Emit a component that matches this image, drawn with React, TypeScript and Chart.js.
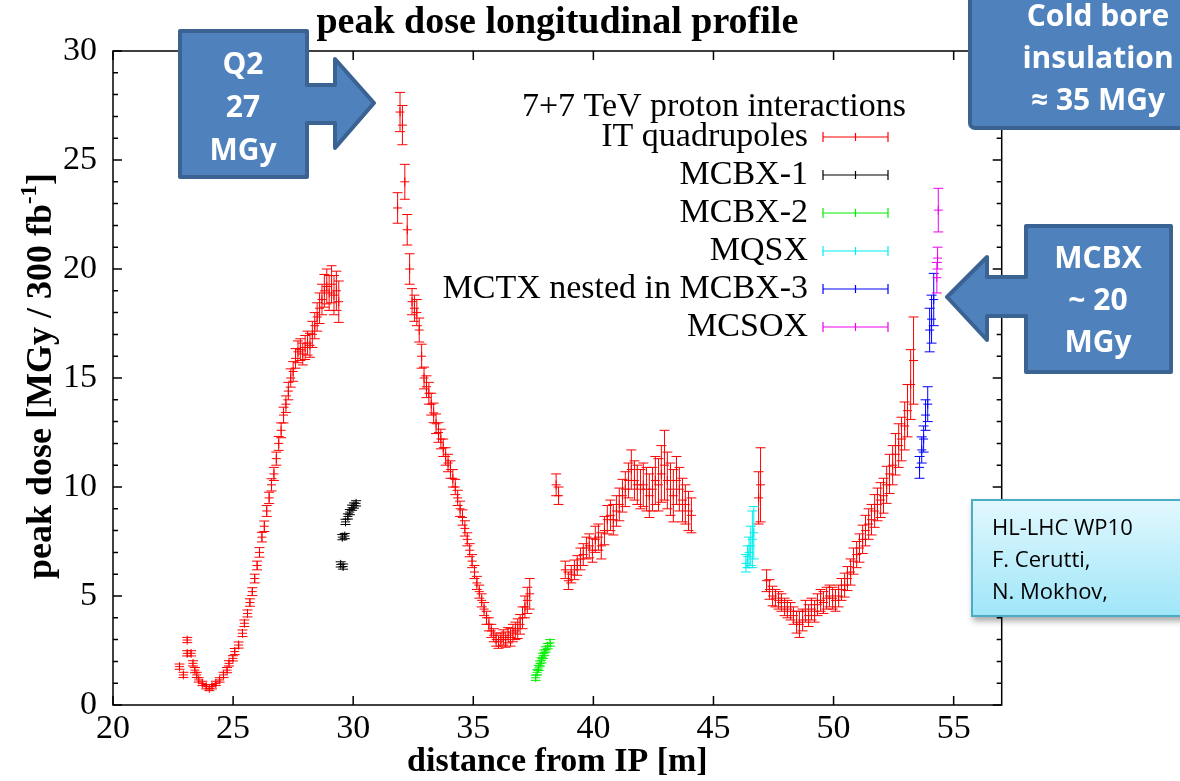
import React, { useEffect, useRef } from "react";
import { Chart, registerables } from "chart.js";

Chart.register(...registerables);

// ---------- data ----------
const xTicks = [20, 25, 30, 35, 40, 45, 50, 55];
const yTicks = [0, 5, 10, 15, 20, 25, 30];

// IT quadrupoles (red)
const itX = [
  22.77, 22.93, 23.09, 23.09, 23.25, 23.33, 23.41, 23.49, 23.57, 23.72, 23.88, 24.01, 24.12, 24.28, 24.44, 24.6, 24.75, 24.83, 24.99, 25.07, 25.23, 25.39, 25.47,
  25.6, 25.7, 25.8, 25.9, 26.0, 26.1, 26.2, 26.3, 26.4, 26.5, 26.6, 26.7, 26.8, 26.9, 27.0, 27.1, 27.2, 27.3, 27.4, 27.5, 27.6, 27.7, 27.8, 27.9, 28.0, 28.1, 28.2, 28.3, 28.4, 28.5, 28.6, 28.7, 28.8, 28.9, 29.0, 29.1, 29.2, 29.3, 29.4,
  31.85, 31.95, 32.05, 32.15, 32.25, 32.35, 32.45, 32.55, 32.65, 32.75, 32.85, 32.95, 33.05, 33.15, 33.25, 33.35, 33.45, 33.55, 33.65, 33.75, 33.85, 33.95, 34.05, 34.15, 34.25, 34.35, 34.45, 34.55, 34.65, 34.75, 34.85, 34.95, 35.05, 35.15, 35.25, 35.35, 35.45, 35.55, 35.65, 35.75, 35.85, 35.95, 36.05, 36.15, 36.25, 36.35, 36.45, 36.55, 36.65, 36.75, 36.85, 36.95, 37.05, 37.15, 37.25, 37.35,
  38.45, 38.55, 38.83, 38.96, 39.08, 39.21, 39.33, 39.46, 39.58, 39.71, 39.83, 39.96, 40.08, 40.21, 40.33, 40.46, 40.58, 40.71, 40.83, 40.96, 41.08, 41.21, 41.33, 41.46, 41.58, 41.71, 41.83, 41.96, 42.08, 42.21, 42.33, 42.46, 42.58, 42.71, 42.83, 42.96, 43.08, 43.21, 43.33, 43.46, 43.58, 43.71, 43.83, 43.96, 44.08,
  46.88, 46.96, 47.21, 47.33, 47.46, 47.58, 47.71, 47.83, 47.96, 48.08, 48.21, 48.33, 48.46, 48.58, 48.71, 48.83, 48.96, 49.08, 49.21, 49.33, 49.46, 49.58, 49.71, 49.83, 49.96, 50.08, 50.21, 50.33, 50.46, 50.58, 50.71, 50.83, 50.96, 51.08, 51.21, 51.33, 51.46, 51.58, 51.71, 51.83, 51.96, 52.08, 52.21, 52.33, 52.46, 52.58, 52.71, 52.83, 52.96, 53.08, 53.21, 53.33,
];
const itY = [
  1.76, 1.38, 2.98, 2.37, 2.37, 1.91, 1.6, 1.38, 1.15, 0.99, 0.84, 0.76, 0.84, 0.99, 1.15, 1.38, 1.6, 1.91, 2.14, 2.45, 2.75, 3.29, 3.75,
  4.2, 4.7, 5.2, 5.8, 6.4, 7.0, 7.7, 8.2, 8.9, 9.5, 10.1, 10.6, 11.3, 12.0, 12.6, 13.3, 13.8, 14.4, 15.0, 15.3, 15.9, 16.2, 16.3, 16.1, 16.4, 16.6, 16.5, 17.0, 17.4, 17.8, 18.2, 18.6, 19.0, 19.2, 18.9, 19.3, 18.8, 19.0, 18.5,
  22.8, 27.2, 26.6, 24.0, 21.8, 20.0, 18.5, 18.2, 18.0, 17.2, 16.0, 15.0, 14.6, 14.3, 13.8, 13.4, 12.9, 12.5, 12.2, 11.8, 11.4, 11.1, 10.8, 10.4, 10.0, 9.5, 9.0, 8.6, 8.1, 7.6, 7.1, 6.6, 6.1, 5.6, 5.2, 4.8, 4.4, 4.0, 3.7, 3.4, 3.2, 3.0, 2.9, 3.0, 3.1, 3.0, 3.2, 3.1, 3.3, 3.4, 3.5, 3.7, 4.0, 4.5, 4.8, 5.1,
  10.1, 9.6, 6.2, 5.7, 6.0, 6.2, 6.4, 6.7, 6.9, 7.2, 7.3, 7.1, 7.6, 7.7, 7.3, 8.0, 8.5, 8.7, 8.5, 8.9, 9.2, 9.6, 9.9, 10.3, 10.8, 10.3, 10.1, 9.9, 10.1, 9.9, 9.6, 9.9, 10.3, 10.1, 10.6, 11.0, 10.3, 9.9, 9.6, 10.3, 9.9, 9.4, 9.2, 8.9, 8.7,
  9.5, 10.1, 5.7, 5.3, 5.0, 4.9, 4.8, 4.7, 4.5, 4.4, 4.3, 4.1, 3.8, 3.7, 3.9, 4.3, 4.1, 4.4, 4.3, 4.6, 4.8, 4.7, 4.9, 5.0, 4.9, 4.8, 5.0, 5.3, 5.5, 5.8, 6.1, 6.6, 6.9, 7.2, 7.6, 8.0, 8.3, 8.5, 8.9, 9.2, 9.4, 9.6, 10.1, 10.6, 11.0, 11.5, 11.9, 12.2, 12.8, 13.5, 14.7, 15.8,
];
const itErr = [
  0.12, 0.12, 0.12, 0.12, 0.12, 0.12, 0.12, 0.12, 0.1, 0.1, 0.1, 0.1, 0.1, 0.1, 0.1, 0.12, 0.12, 0.12, 0.12, 0.14, 0.14, 0.15, 0.15,
  0.16, 0.17, 0.18, 0.2, 0.2, 0.22, 0.22, 0.24, 0.25, 0.26, 0.28, 0.3, 0.3, 0.32, 0.34, 0.36, 0.38, 0.4, 0.42, 0.45, 0.45, 0.5, 0.5, 0.5, 0.55, 0.55, 0.55, 0.6, 0.6, 0.65, 0.7, 0.7, 0.75, 0.8, 0.8, 0.85, 0.9, 0.9, 0.95,
  0.7, 0.9, 0.9, 0.8, 0.7, 0.7, 0.6, 0.6, 0.6, 0.55, 0.55, 0.5, 0.5, 0.5, 0.5, 0.45, 0.45, 0.45, 0.45, 0.4, 0.4, 0.4, 0.4, 0.4, 0.35, 0.35, 0.35, 0.35, 0.35, 0.3, 0.3, 0.3, 0.3, 0.3, 0.3, 0.3, 0.3, 0.3, 0.3, 0.3, 0.3, 0.3, 0.3, 0.3, 0.35, 0.35, 0.35, 0.4, 0.4, 0.4, 0.45, 0.45, 0.5, 0.5, 0.6, 0.7,
  0.5, 0.4, 0.4, 0.4, 0.4, 0.45, 0.45, 0.5, 0.5, 0.5, 0.55, 0.55, 0.6, 0.6, 0.6, 0.65, 0.65, 0.7, 0.7, 0.7, 0.75, 0.75, 0.8, 0.8, 0.9, 0.9, 0.9, 0.9, 1.0, 1.0, 1.0, 1.0, 1.1, 1.2, 1.3, 1.6, 1.3, 1.2, 1.2, 1.1, 1.0, 1.0, 0.9, 0.9, 0.8,
  1.2, 1.7, 0.5, 0.45, 0.45, 0.4, 0.4, 0.4, 0.4, 0.4, 0.4, 0.4, 0.5, 0.6, 0.5, 0.5, 0.5, 0.5, 0.5, 0.5, 0.5, 0.5, 0.5, 0.5, 0.5, 0.5, 0.5, 0.5, 0.55, 0.55, 0.6, 0.6, 0.6, 0.65, 0.65, 0.7, 0.7, 0.7, 0.75, 0.75, 0.8, 0.8, 0.85, 0.9, 0.9, 0.95, 1.0, 1.0, 1.1, 1.2, 1.6, 2.0,
];

// MCBX-1 (black)
const mcbx1X = [29.48, 29.58, 29.55, 29.65, 29.68, 29.78, 29.86, 29.95, 30.03, 30.12];
const mcbx1Y = [6.45, 6.35, 7.7, 7.75, 8.4, 8.65, 8.85, 9.05, 9.15, 9.25];
const mcbx1Err = [0.12, 0.12, 0.12, 0.12, 0.12, 0.12, 0.12, 0.12, 0.12, 0.12];

// MCBX-2 (green)
const mcbx2X = [37.6, 37.66, 37.72, 37.78, 37.84, 37.9, 37.96, 38.02, 38.1, 38.2];
const mcbx2Y = [1.25, 1.5, 1.7, 1.9, 2.05, 2.25, 2.4, 2.55, 2.7, 2.85];
const mcbx2Err = [0.12, 0.12, 0.12, 0.12, 0.12, 0.12, 0.12, 0.12, 0.12, 0.15];

// MQSX (cyan)
const mqsxX = [46.35, 46.42, 46.48, 46.55, 46.62, 46.68];
const mqsxY = [6.5, 6.8, 7.0, 7.3, 7.6, 7.9];
const mqsxErr = [0.4, 0.5, 0.7, 0.9, 1.3, 1.2];

// MCTX nested in MCBX-3 (blue)
const mctxX = [53.58, 53.67, 53.75, 53.83, 53.92, 54.0, 54.08, 54.17];
const mctxY = [10.9, 11.7, 12.2, 13.3, 13.8, 17.2, 17.7, 18.6];
const mctxErr = [0.5, 0.6, 0.6, 0.7, 0.8, 1.0, 1.1, 1.2];

// MCSOX (magenta)
const mcsoxX = [54.3, 54.33, 54.36];
const mcsoxY = [19.6, 20.5, 22.7];
const mcsoxErr = [0.7, 0.5, 1.0];

const seriesLabels = ["IT quadrupoles", "MCBX-1", "MCBX-2", "MQSX", "MCTX nested in MCBX-3", "MCSOX"];
const seriesColors = ["#ff0000", "#000000", "#00ee00", "#00eeee", "#0000ff", "#ee00ee"];
const legendHeader = "7+7 TeV proton interactions";

const seriesData = [
  { x: itX, y: itY, e: itErr },
  { x: mcbx1X, y: mcbx1Y, e: mcbx1Err },
  { x: mcbx2X, y: mcbx2Y, e: mcbx2Err },
  { x: mqsxX, y: mqsxY, e: mqsxErr },
  { x: mctxX, y: mctxY, e: mctxErr },
  { x: mcsoxX, y: mcsoxY, e: mcsoxErr },
];

const SERIF = "'Liberation Serif', 'Times New Roman', serif";
const SANS = "'Open Sans', 'Noto Sans', sans-serif";

// ---------- plugins ----------
const errorBarPlugin = {
  id: "errorBars",
  beforeDatasetsDraw(chart: any) {
    const { ctx, chartArea, scales } = chart;
    ctx.save();
    ctx.beginPath();
    ctx.rect(chartArea.left, chartArea.top, chartArea.right - chartArea.left, chartArea.bottom - chartArea.top);
    ctx.clip();
    ctx.lineWidth = 1;
    seriesData.forEach((s, i) => {
      ctx.strokeStyle = seriesColors[i];
      ctx.beginPath();
      s.x.forEach((xv, j) => {
        const px = scales.x.getPixelForValue(xv);
        const y1 = scales.y.getPixelForValue(s.y[j] - s.e[j]);
        const y2 = scales.y.getPixelForValue(s.y[j] + s.e[j]);
        ctx.moveTo(px, y1);
        ctx.lineTo(px, y2);
        ctx.moveTo(px - 5, y1);
        ctx.lineTo(px + 5, y1);
        ctx.moveTo(px - 5, y2);
        ctx.lineTo(px + 5, y2);
      });
      ctx.stroke();
    });
    ctx.restore();
  },
};

const framePlugin = {
  id: "frame",
  afterDatasetsDraw(chart: any) {
    const { ctx, chartArea, scales } = chart;
    const { left, right, top, bottom } = chartArea;
    ctx.save();
    ctx.strokeStyle = "#000";
    ctx.lineWidth = 1.5;
    ctx.strokeRect(left, top, right - left, bottom - top);
    ctx.beginPath();
    xTicks.forEach((v) => {
      const px = scales.x.getPixelForValue(v);
      ctx.moveTo(px, bottom);
      ctx.lineTo(px, bottom - 9);
      ctx.moveTo(px, top);
      ctx.lineTo(px, top + 9);
    });
    for (let v = yTicks[0]; v <= yTicks[yTicks.length - 1]; v += 1) {
      const py = scales.y.getPixelForValue(v);
      const len = v % 5 === 0 ? 9 : 5;
      ctx.moveTo(left, py);
      ctx.lineTo(left + len, py);
      ctx.moveTo(right, py);
      ctx.lineTo(right - len, py);
    }
    ctx.stroke();
    ctx.restore();
  },
};

const legendPlugin = {
  id: "customLegend",
  afterDraw(chart: any) {
    const { ctx } = chart;
    const textRight = 808;
    const sx1 = 823;
    const sx2 = 888;
    const y0 = 137;
    const dy = 38;
    ctx.save();
    ctx.font = `34px ${SERIF}`;
    ctx.fillStyle = "#000";
    ctx.textAlign = "right";
    ctx.textBaseline = "middle";
    ctx.fillText(legendHeader, 906, y0 - 30);
    seriesLabels.forEach((lab, i) => {
      const y = y0 + i * dy;
      ctx.fillStyle = "#000";
      ctx.fillText(lab, textRight, y);
      ctx.strokeStyle = seriesColors[i];
      ctx.lineWidth = 1.2;
      ctx.beginPath();
      ctx.moveTo(sx1, y);
      ctx.lineTo(sx2, y);
      ctx.moveTo(sx1, y - 5);
      ctx.lineTo(sx1, y + 5);
      ctx.moveTo(sx2, y - 5);
      ctx.lineTo(sx2, y + 5);
      const mx = (sx1 + sx2) / 2;
      ctx.moveTo(mx, y - 4);
      ctx.lineTo(mx, y + 4);
      ctx.stroke();
    });
    ctx.restore();
  },
};

const yTitlePlugin = {
  id: "yTitle",
  afterDraw(chart: any) {
    const { ctx, chartArea } = chart;
    const main = "peak dose [MGy / 300 fb";
    const sup = "-1";
    const tail = "]";
    ctx.save();
    const fMain = `bold 36px ${SERIF}`;
    const fSup = `bold 23px ${SERIF}`;
    ctx.font = fMain;
    const w1 = ctx.measureText(main).width;
    const w3 = ctx.measureText(tail).width;
    ctx.font = fSup;
    const w2 = ctx.measureText(sup).width;
    const total = w1 + w2 + w3;
    const cy = (chartArea.top + chartArea.bottom) / 2 - 2;
    ctx.translate(51, cy);
    ctx.rotate(-Math.PI / 2);
    ctx.fillStyle = "#000";
    ctx.textBaseline = "alphabetic";
    ctx.textAlign = "left";
    let x = -total / 2;
    ctx.font = fMain;
    ctx.fillText(main, x, 0);
    x += w1;
    ctx.font = fSup;
    ctx.fillText(sup, x, -15);
    x += w2;
    ctx.font = fMain;
    ctx.fillText(tail, x, 0);
    ctx.restore();
  },
};

function Overlay() {
  const box = "#4f81bd";
  const edge = "#3a6292";
  const tStyle: any = { fontFamily: SANS, fontWeight: 700, fontSize: 30, fill: "#fff" };
  return (
    <svg
      width={1180}
      height={781}
      style={{ position: "absolute", left: 0, top: 0, pointerEvents: "none" }}
    >
      <defs>
        <linearGradient id="hlgrad" x1="0" y1="0" x2="0" y2="1">
          <stop offset="0%" stopColor="#e2f8fd" />
          <stop offset="100%" stopColor="#9fe6f9" />
        </linearGradient>
        <filter id="shadow" x="-10%" y="-10%" width="130%" height="140%">
          <feDropShadow dx="2" dy="4" stdDeviation="3" floodColor="#000" floodOpacity="0.35" />
        </filter>
      </defs>
      {/* Q2 callout */}
      <path
        d="M180,31 H307 V85 H335 V59 L374,103 L335,148 V123 H307 V177 H180 Z"
        fill={box}
        stroke={edge}
        strokeWidth={4}
        strokeLinejoin="round"
      />
      <text x={243} y={74} textAnchor="middle" style={tStyle}>Q2</text>
      <text x={243} y={117} textAnchor="middle" style={tStyle}>27</text>
      <text x={243} y={160} textAnchor="middle" style={tStyle}>MGy</text>
      {/* Cold bore box */}
      <rect x={970} y={-20} width={240} height={148} rx={5} fill={box} stroke={edge} strokeWidth={4} />
      <text x={1098} y={26} textAnchor="middle" style={tStyle}>Cold bore</text>
      <text x={1098} y={68} textAnchor="middle" style={tStyle}>insulation</text>
      <text x={1098} y={110} textAnchor="middle" style={tStyle}>≈ 35 MGy</text>
      {/* MCBX callout */}
      <path
        d="M1026,226 H1171 V372 H1026 V316 H987 V340 L947,297 L987,257 V277 H1026 Z"
        fill={box}
        stroke={edge}
        strokeWidth={4}
        strokeLinejoin="round"
      />
      <text x={1098} y={268} textAnchor="middle" style={tStyle}>MCBX</text>
      <text x={1098} y={310} textAnchor="middle" style={tStyle}>~ 20</text>
      <text x={1098} y={352} textAnchor="middle" style={tStyle}>MGy</text>
      {/* HL-LHC box */}
      <rect x={972} y={500} width={240} height={116} fill="url(#hlgrad)" stroke="#4bacc6" strokeWidth={2} filter="url(#shadow)" />
      <g style={{ fontFamily: SANS, fontSize: 22, fill: "#000" }}>
        <text x={992} y={535}>HL-LHC WP10</text>
        <text x={992} y={567}>F. Cerutti,</text>
        <text x={992} y={599}>N. Mokhov,</text>
      </g>
    </svg>
  );
}

export default function App() {
  const canvasRef = useRef<HTMLCanvasElement | null>(null);

  useEffect(() => {
    document.body.style.margin = "0";
    const canvas = canvasRef.current;
    if (!canvas) return;
    const tickFont = { family: SERIF, size: 34 };
    const chart = new Chart(canvas, {
      type: "scatter",
      data: {
        datasets: seriesData.map((s, i) => ({
          label: seriesLabels[i],
          data: s.x.map((xv, j) => ({ x: xv, y: s.y[j] })),
          pointStyle: "cross",
          pointRadius: 4.5,
          pointHoverRadius: 4.5,
          borderWidth: 1,
          borderColor: seriesColors[i],
          backgroundColor: seriesColors[i],
        })),
      },
      options: {
        animation: false,
        responsive: false,
        maintainAspectRatio: false,
        events: [],
        layout: { padding: { left: 0, right: 178.3, top: 0, bottom: 0 } },
        plugins: {
          legend: { display: false },
          tooltip: { enabled: false },
          title: {
            display: true,
            text: "peak dose longitudinal profile",
            fullSize: false,
            color: "#000",
            font: { family: SERIF, size: 38, weight: "bold", lineHeight: 1.2 },
            padding: { top: 0, bottom: 5.4 },
          },
        },
        scales: {
          x: {
            type: "linear",
            min: 20,
            max: 57,
            afterBuildTicks: (s: any) => {
              s.ticks = xTicks.map((v) => ({ value: v }));
            },
            afterFit: (s: any) => {
              s.height = 76;
            },
            grid: { display: false, drawTicks: false },
            border: { display: false },
            ticks: { font: tickFont, color: "#000", padding: 4, callback: (v: any) => String(v) },
            title: {
              display: true,
              text: "distance from IP [m]",
              color: "#000",
              font: { family: SERIF, size: 34, weight: "bold", lineHeight: 1.1 },
              padding: { top: 0, bottom: 0 },
            },
          },
          y: {
            type: "linear",
            min: 0,
            max: 30,
            afterBuildTicks: (s: any) => {
              s.ticks = yTicks.map((v) => ({ value: v }));
            },
            afterFit: (s: any) => {
              s.width = 113;
            },
            grid: { display: false, drawTicks: false },
            border: { display: false },
            ticks: { font: tickFont, color: "#000", padding: 16, callback: (v: any) => String(v) },
          },
        },
      } as any,
      plugins: [errorBarPlugin, framePlugin, legendPlugin, yTitlePlugin],
    });
    return () => chart.destroy();
  }, []);

  return (
    <div style={{ position: "relative", width: 1180, height: 781, overflow: "hidden", background: "#fff" }}>
      <canvas ref={canvasRef} width={1180} height={781} style={{ display: "block" }} />
      <Overlay />
    </div>
  );
}
